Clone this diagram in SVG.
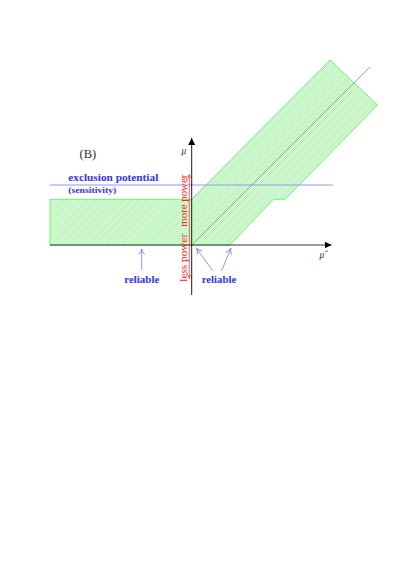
<svg xmlns="http://www.w3.org/2000/svg" width="407" height="575" viewBox="0 0 407 575">
<style>
.serif{font-family:"Liberation Serif","DejaVu Serif",serif}
.blue{fill:#3333ee;font-weight:bold}
.red{fill:#ff2020}
.bl{stroke:#7777ff;stroke-width:0.8;fill:none}
.rd{stroke:#ff4040;stroke-width:0.8;fill:none}
</style>
<defs>
<pattern id="hatch" width="1.6" height="1.6" patternUnits="userSpaceOnUse" patternTransform="rotate(45)">
<rect width="1.6" height="1.6" fill="#ecfdec"/>
<line x1="0" y1="0" x2="0" y2="1.6" stroke="#66ee66" stroke-width="0.8"/>
</pattern>
<marker id="ax" markerWidth="8" markerHeight="8" refX="7" refY="4" orient="auto" markerUnits="userSpaceOnUse">
<path d="M0,0.5 L7,4 L0,7.5 Z" fill="#000"/>
</marker>
<marker id="ob" markerWidth="8" markerHeight="8" refX="6" refY="4" orient="auto" markerUnits="userSpaceOnUse">
<path d="M0.5,1 Q3,3.5 6,4 Q3,4.5 0.5,7" fill="none" stroke="#7777ff" stroke-width="0.8"/>
</marker>
<marker id="or" markerWidth="8" markerHeight="8" refX="6" refY="4" orient="auto" markerUnits="userSpaceOnUse">
<path d="M0.5,1 Q3,3.5 6,4 Q3,4.5 0.5,7" fill="none" stroke="#ff4040" stroke-width="0.8"/>
</marker>
</defs>
<g id="band">
<polygon points="50,199.3 191.7,199.3 330,60 377.5,105 285,199.3 273.3,199.3 230,245 50,245" fill="url(#hatch)" stroke="#55ee55" stroke-width="0.8"/>
</g>
<g id="connectors">
<line x1="192" y1="245" x2="370" y2="67" stroke="#339933" stroke-width="0.6"/>
<line x1="50" y1="185" x2="333" y2="185" stroke="#8888ff" stroke-width="0.9"/>
<line x1="50" y1="245" x2="331.5" y2="245" stroke="#222" stroke-width="0.9" marker-end="url(#ax)"/>
<line x1="191.7" y1="295" x2="191.7" y2="138" stroke="#000" stroke-width="0.9" marker-end="url(#ax)"/>
<line x1="189.3" y1="230" x2="189.3" y2="174.5" class="rd" marker-end="url(#or)"/>
<line x1="189.3" y1="230" x2="189.3" y2="278.5" class="rd" marker-end="url(#or)"/>
<line x1="141.7" y1="270" x2="141.7" y2="249" class="bl" marker-end="url(#ob)"/>
<line x1="212.7" y1="270.7" x2="196.5" y2="248.3" class="bl" marker-end="url(#ob)"/>
<line x1="221.7" y1="270.7" x2="230.8" y2="248.3" class="bl" marker-end="url(#ob)"/>
</g>
<g id="labels" class="serif">
<text x="79.5" y="158" font-size="12.5" fill="#333">(B)</text>
<text x="181.5" y="154" font-size="9.5" font-style="italic" fill="#333">μ</text>
<text x="319.5" y="258" font-size="9.5" font-style="italic" fill="#333">μ̂</text>
<text x="68.3" y="180.7" font-size="10" class="blue" textLength="90" lengthAdjust="spacingAndGlyphs">exclusion potential</text>
<text x="68.3" y="193.3" font-size="7.5" class="blue" textLength="48" lengthAdjust="spacingAndGlyphs">(sensitivity)</text>
<text transform="translate(187,226.7) rotate(-90)" font-size="10.5" class="red" textLength="52" lengthAdjust="spacingAndGlyphs">more power</text>
<text transform="translate(187,281.7) rotate(-90)" font-size="10.5" class="red" textLength="48" lengthAdjust="spacingAndGlyphs">less power</text>
<text x="124.3" y="282.7" font-size="9.5" class="blue" textLength="35" lengthAdjust="spacingAndGlyphs">reliable</text>
<text x="201.7" y="282.7" font-size="9.5" class="blue" textLength="34.5" lengthAdjust="spacingAndGlyphs">reliable</text>
</g>
</svg>
